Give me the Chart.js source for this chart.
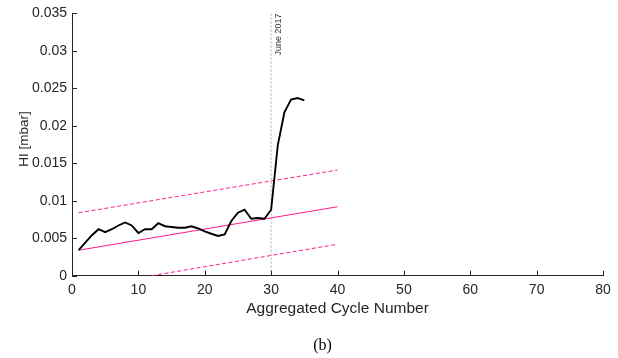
<!DOCTYPE html>
<html>
<head>
<meta charset="utf-8">
<script src="https://cdn.jsdelivr.net/npm/chart.js@4/dist/chart.umd.min.js"></script>
<style>
  html, body { margin: 0; padding: 0; background: #ffffff; }
  #wrap { width: 618px; height: 358px; }
</style>
</head>
<body>
<div id="wrap"><canvas id="c" width="618" height="358"></canvas></div>
<script>
// ---- data ----
const cycles = [1,2,3,4,5,6,7,8,9,10,11,12,13,14,15,16,17,18,19,20,21,22,23,24,25,26,27,28,29,30,31,32,33,34,35];
const hiValues = [0.0034,0.0044,0.0054,0.0062,0.0058,0.0062,0.0067,0.0071,0.0067,0.0057,
                  0.0062,0.0062,0.0070,0.0066,0.0065,0.0064,0.0064,0.0066,0.0063,0.0059,
                  0.0056,0.0053,0.0055,0.0073,0.0084,0.0088,0.0076,0.0077,0.0076,0.0088,
                  0.0174,0.0218,0.0235,0.0237,0.0234];
const trendX = [1, 40];
const trendMid = [0.0034, 0.0092];
const trendUpper = [0.0084, 0.0141];
const lowerX = [12, 40];
const trendLower = [0.0, 0.0042];
const markerX = [30, 30];
const markerY = [0, 0.035];
const markerLabel = 'June 2017';
const xTicks = [0,10,20,30,40,50,60,70,80];
const yTicks = [0,0.005,0.01,0.015,0.02,0.025,0.03,0.035];
const xTitle = 'Aggregated Cycle Number';
const yTitle = 'HI [mbar]';
const panelLabel = '(b)';

const pts = (xs, ys) => xs.map((x, i) => ({x: x, y: ys[i]}));
const PINK = '#ff1a8c';
const AXIS = '#262626';

const decor = {
  id: 'decor',
  afterDraw(chart) {
    const ctx = chart.ctx;
    const xs = chart.scales.x, ys = chart.scales.y;
    const a = chart.chartArea;
    ctx.save();
    // inward tick marks
    ctx.strokeStyle = AXIS;
    ctx.lineWidth = 1;
    ctx.beginPath();
    xTicks.forEach(v => {
      const p = Math.round(xs.getPixelForValue(v)) + 0.5;
      ctx.moveTo(p, a.bottom); ctx.lineTo(p, a.bottom - 5);
    });
    yTicks.forEach(v => {
      const p = Math.round(ys.getPixelForValue(v)) + 0.5;
      ctx.moveTo(a.left, p); ctx.lineTo(a.left + 5, p);
    });
    ctx.stroke();
    // marker label
    ctx.fillStyle = '#333333';
    ctx.font = '9px "Liberation Sans", Arial, sans-serif';
    ctx.save();
    ctx.translate(xs.getPixelForValue(markerX[0]) + 7.5, ys.getPixelForValue(markerY[1]));
    ctx.rotate(-Math.PI / 2);
    ctx.textAlign = 'right';
    ctx.textBaseline = 'middle';
    ctx.fillText(markerLabel, 0, 0);
    ctx.restore();
    // y title
    ctx.fillStyle = AXIS;
    ctx.font = '13.5px "Liberation Sans", Arial, sans-serif';
    ctx.save();
    ctx.translate(24, 139);
    ctx.rotate(-Math.PI / 2);
    ctx.textAlign = 'center';
    ctx.textBaseline = 'middle';
    ctx.fillText(yTitle, 0, 0);
    ctx.restore();
    // panel label
    ctx.fillStyle = '#000000';
    ctx.font = '16px "Liberation Serif", "Times New Roman", serif';
    ctx.textAlign = 'center';
    ctx.textBaseline = 'middle';
    ctx.fillText(panelLabel, 322.5, 345.5);
    ctx.restore();
  }
};

new Chart(document.getElementById('c'), {
  type: 'line',
  data: {
    datasets: [
      { data: pts(cycles, hiValues), borderColor: '#000000', borderWidth: 1.9 },
      { data: pts(trendX, trendMid), borderColor: PINK, borderWidth: 1 },
      { data: pts(trendX, trendUpper), borderColor: PINK, borderWidth: 1, borderDash: [4, 2.5] },
      { data: pts(lowerX, trendLower), borderColor: PINK, borderWidth: 1, borderDash: [4, 2.5] },
      { data: pts(markerX, markerY), borderColor: '#9a9a9a', borderWidth: 0.8, borderDash: [2, 2] }
    ]
  },
  options: {
    responsive: false,
    animation: false,
    devicePixelRatio: 1,
    parsing: true,
    elements: { point: { radius: 0 }, line: { tension: 0 } },
    layout: { padding: { left: 0, right: 15, top: 12.5, bottom: 0 } },
    plugins: { legend: { display: false }, tooltip: { enabled: false }, title: { display: false } },
    scales: {
      x: {
        type: 'linear', min: 0, max: 80,
        afterFit: s => { s.height = 82.3; },
        afterBuildTicks: s => { s.ticks = xTicks.map(v => ({value: v})); },
        grid: { display: false, drawTicks: false, tickLength: 0 },
        border: { display: true, color: AXIS, width: 1 },
        ticks: { color: AXIS, padding: 6, maxRotation: 0, font: { family: '"Liberation Sans", Arial, sans-serif', size: 14 },
                 callback: v => String(v) },
        title: { display: true, text: xTitle, color: AXIS,
                 font: { family: '"Liberation Sans", Arial, sans-serif', size: 15.5 },
                 padding: { top: 0, bottom: 40 } }
      },
      y: {
        type: 'linear', min: 0, max: 0.035,
        afterFit: s => { s.width = 72; },
        afterBuildTicks: s => { s.ticks = yTicks.map(v => ({value: v})); },
        grid: { display: false, drawTicks: false, tickLength: 0 },
        border: { display: true, color: AXIS, width: 1 },
        ticks: { color: AXIS, padding: 5, font: { family: '"Liberation Sans", Arial, sans-serif', size: 14 },
                 callback: v => String(+v.toFixed(3)) }
      }
    }
  },
  plugins: [decor]
});
</script>
</body>
</html>
